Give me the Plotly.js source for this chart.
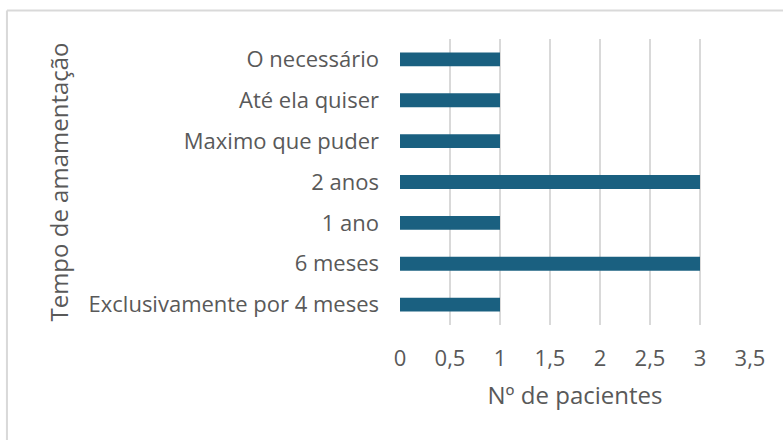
<!DOCTYPE html>
<html>
<head>
<meta charset="utf-8">
<script src="https://cdn.plot.ly/plotly-3.0.1.min.js"></script>
<style>html,body{margin:0;padding:0;background:#fff;}#chart{width:783px;height:440px;}</style>
</head>
<body>
<div id="chart"></div>
<script>
const categories = ["Exclusivamente por 4 meses", "6 meses", "1 ano", "2 anos", "Maximo que puder", "Até ela quiser", "O necessário"];
const pacientes = [1, 3, 1, 3, 1, 1, 1];
const xTickValues = [0, 0.5, 1, 1.5, 2, 2.5, 3, 3.5];
const xTickLabels = ["0", "0,5", "1", "1,5", "2", "2,5", "3", "3,5"];
const xTitle = "Nº de pacientes";
const yTitle = "Tempo de amamentação";

const font = "'Open Sans', sans-serif";
const txt = "#595959";

Plotly.newPlot("chart", [{
  type: "bar",
  orientation: "h",
  y: categories,
  x: pacientes,
  marker: {color: "#1a6080"},
  hoverinfo: "x+y"
}], {
  width: 783, height: 440,
  margin: {l: 400, r: 33, t: 39, b: 115},
  paper_bgcolor: "#fff", plot_bgcolor: "#fff",
  bargap: 0.66,
  showlegend: false,
  font: {family: font, color: txt, size: 22},
  xaxis: {
    range: [0, 3.5],
    tickvals: xTickValues, ticktext: xTickLabels,
    showgrid: true, gridcolor: "#d9d9d9", gridwidth: 2,
    zeroline: false, showline: false,
    ticks: "", ticklabelstandoff: 18,
    tickfont: {size: 22, color: txt},
    title: {text: xTitle, font: {size: 24, color: txt}, standoff: 16},
    automargin: false, fixedrange: true
  },
  yaxis: {
    type: "category",
    showgrid: false, zeroline: false, showline: false,
    ticks: "", ticklabelstandoff: 20,
    tickfont: {size: 22, color: txt},
    title: {text: yTitle, font: {size: 24, color: txt}, standoff: 13},
    automargin: false, fixedrange: true
  },
  shapes: [
    {type: "line", xref: "paper", yref: "paper", x0: -1.123, x1: 1.2, y0: 1.1, y1: 1.1, line: {color: "#d9d9d9", width: 2}},
    {type: "line", xref: "paper", yref: "paper", x0: -1.123, x1: -1.123, y0: 1.1, y1: -0.5, line: {color: "#d9d9d9", width: 2}}
  ]
}, {displayModeBar: false, staticPlot: true});
</script>
</body>
</html>
